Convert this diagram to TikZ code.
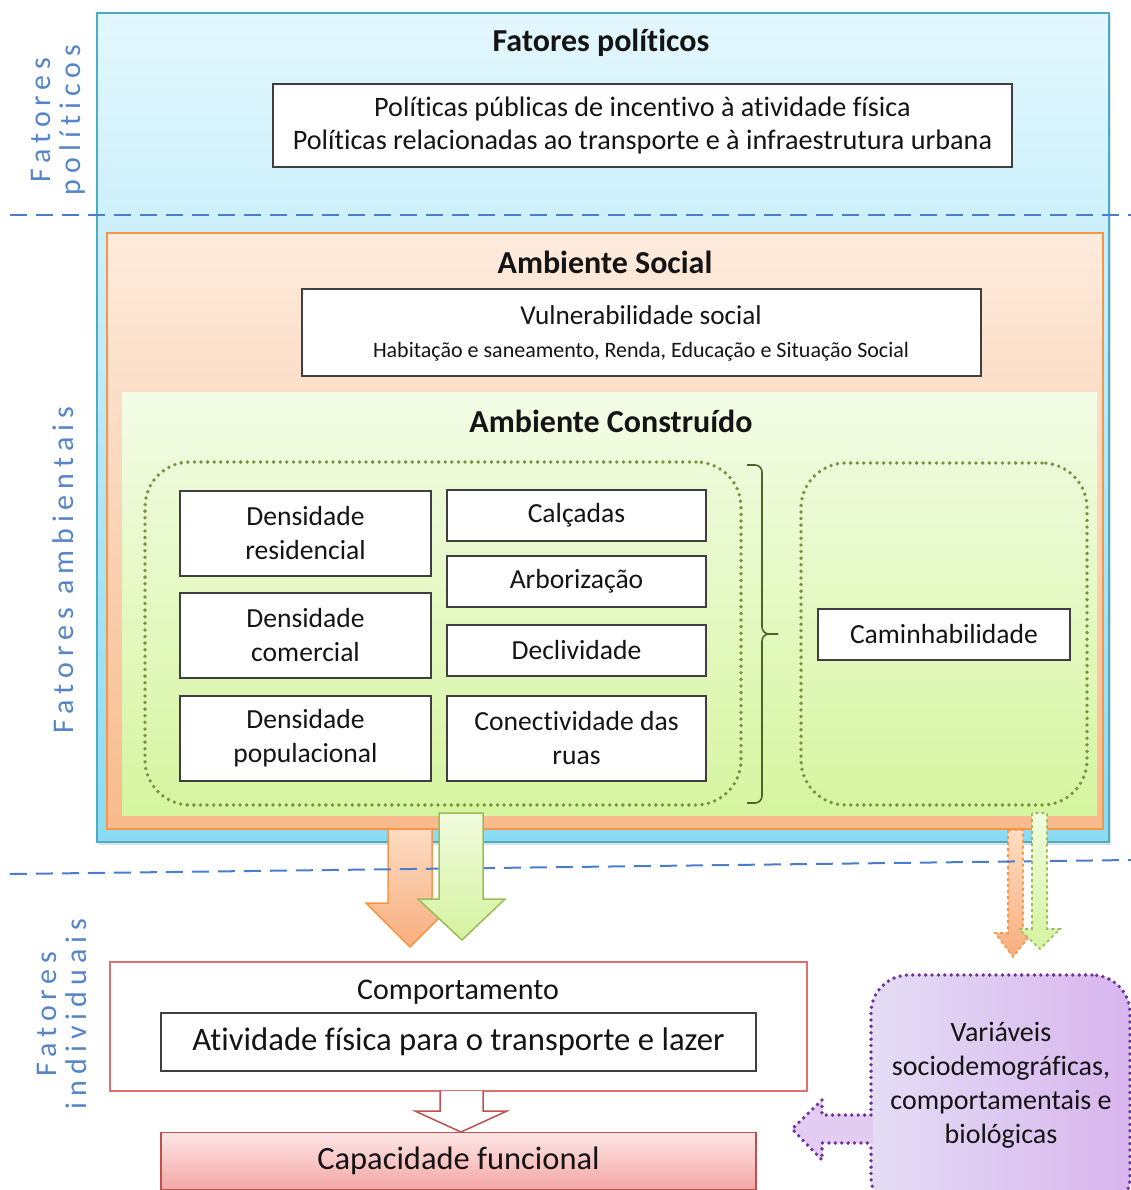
\documentclass[tikz,border=0pt]{standalone}
\usepackage{fontspec}
\setmainfont{Carlito}[Ligatures=NoCommon]
\newfontfamily\vlab{Carlito}[LetterSpace=20,Ligatures=NoCommon]
\usetikzlibrary{shadows}
\definecolor{blueT}{HTML}{E3F7FD}
\definecolor{blueBot}{HTML}{8ADBF2}
\definecolor{blueB}{HTML}{4BACC6}
\definecolor{orT}{HTML}{FDEBDD}
\definecolor{orBot}{HTML}{F9BA8C}
\definecolor{orB}{HTML}{F79646}
\definecolor{grT}{HTML}{F3FCE6}
\definecolor{grBot}{HTML}{D6F5A0}
\definecolor{oliveC}{HTML}{77933C}
\definecolor{boxline}{HTML}{3F3F3F}
\definecolor{dashblue}{HTML}{4A7DCC}
\definecolor{labblue}{HTML}{5585C8}
\definecolor{braceC}{HTML}{4F6228}
\definecolor{redline}{HTML}{E07070}
\definecolor{capB}{HTML}{C0504D}
\definecolor{capT}{HTML}{FDE6E6}
\definecolor{capBot}{HTML}{F4A7A5}
\definecolor{purB}{HTML}{7030A0}
\definecolor{purL}{HTML}{E4DDF5}
\definecolor{purR}{HTML}{D8B5EE}
\definecolor{purA}{HTML}{E2CCF2}
\definecolor{aorT}{HTML}{FDDCC3}
\definecolor{aorBot}{HTML}{F8AE7E}
\definecolor{agrT}{HTML}{F1FBDD}
\definecolor{agrBot}{HTML}{D5F3A0}
\definecolor{agrB}{HTML}{9BBB59}
\definecolor{textc}{HTML}{141414}
\newcommand\fsz[2]{\fontsize{#1}{#2}\selectfont}
\begin{document}
\begin{tikzpicture}[x=1pt,y=-1pt,
  wbox/.style={draw=boxline, fill=white, line width=1.2pt, inner sep=0pt, outer sep=0pt, align=center, text=textc},
  ttl/.style={font=\bfseries\fsz{32}{36}, text=textc, inner sep=0pt},
  txt/.style={text=textc, inner sep=0pt, align=center},
  dotbox/.style={draw=oliveC, line width=3.8pt, dash pattern=on 0pt off 6.6pt, line cap=round, rounded corners=45pt, inner sep=0pt},
  dline/.style={draw=dashblue, line width=2pt, dash pattern=on 17pt off 9pt},
  vlabel/.style={font=\vlab\fsz{30}{30}, text=labblue, rotate=90, align=center, inner sep=0pt},
  bigbox/.style={inner sep=0pt, outer sep=0pt, line width=1.5pt},
  brace/.style={draw=braceC, line width=1.6pt, rounded corners=7pt},
  orarrow/.style={draw=orB, line width=1.5pt, top color=aorT, bottom color=aorBot},
  grarrow/.style={draw=agrB, line width=1.5pt, top color=agrT, bottom color=agrBot},
  purdot/.style={draw=purB, line width=3.8pt, dash pattern=on 0pt off 6.4pt, line cap=round},
]
\useasboundingbox (0,0) rectangle (1131,1190);

% big boxes
\node[bigbox, draw=blueB, top color=blueT, bottom color=blueBot, minimum width=1012pt, minimum height=829pt,
  drop shadow={opacity=0.25, shadow xshift=2pt, shadow yshift=-3pt}] (polbox) at (603,427.5) {};
\node[bigbox, draw=orB, top color=orT, bottom color=orBot, minimum width=996pt, minimum height=596pt] (socbox) at (605,531) {};
\node[bigbox, top color=grT, bottom color=grBot, minimum width=975pt, minimum height=423pt] (conbox) at (609.5,603.5) {};

% dashed separators
\coordinate (d1a) at (10,215); \coordinate (d1b) at (1131,215);
\draw[dline] (d1a) -- (d1b);

% titles
\node[ttl] (t1) at (601,43) {Fatores políticos};
\node[ttl] (t2) at (605,262) {Ambiente Social};
\node[ttl] (t3) at (611,421) {Ambiente Construído};

% political box
\node[wbox, minimum width=739pt, minimum height=83pt, font=\fsz{28.2}{33}] (polit) at (642.5,125.5)
  {Políticas públicas de incentivo à atividade física\\Políticas relacionadas ao transporte e à infraestrutura urbana};

% social vulnerability
\node[wbox, minimum width=679pt, minimum height=87pt] (vul) at (641.5,332.5) {};
\node[txt, font=\fsz{27.2}{30}] (vult) at (641,315) {Vulnerabilidade social};
\node[txt, font=\fsz{22}{26}] (vuls) at (641,352) {Habitação e saneamento, Renda, Educação e Situação Social};

% dotted groups
\node[dotbox, minimum width=596pt, minimum height=343pt] (grpL) at (443,633.5) {};
\node[dotbox, minimum width=286pt, minimum height=342pt] (grpR) at (944,634) {};

% built environment boxes
\begin{scope}[every node/.style={wbox, font=\fsz{27.6}{34}}]
\node[minimum width=251pt, minimum height=85pt] (dres) at (305.5,533.5) {Densidade\\residencial};
\node[minimum width=251pt, minimum height=85pt] (dcom) at (305.5,635.5) {Densidade\\comercial};
\node[minimum width=251pt, minimum height=85pt] (dpop) at (305.5,738.5) {Densidade\\populacional};
\node[minimum width=259pt, minimum height=51pt] (calc) at (576.5,515.5) {Calçadas};
\node[minimum width=259pt, minimum height=51pt] (arb) at (576.5,581.5) {Arborização};
\node[minimum width=259pt, minimum height=51pt] (decl) at (576.5,650.5) {Declividade};
\node[minimum width=259pt, minimum height=85pt] (conn) at (576.5,738.5) {Conectividade das\\ruas};
\node[minimum width=252pt, minimum height=51pt] (cam) at (944,634.5) {Caminhabilidade};
\end{scope}

% brace
\draw[brace] (747,465) -- (762,465) -- (762,634) -- (778,634);
\draw[brace] (747,803) -- (762,803) -- (762,634) -- (778,634);

% arrows from environment
\path[orarrow] (388,829) -- (388,903) -- (366,903) -- (410,947) -- (454,903) -- (432,903) -- (432,829) -- cycle;
\path[orarrow, dashed, line width=1.6pt] (1008,830) -- (1008,933) -- (995,933) -- (1013,957) -- (1032,933) -- (1023,933) -- (1023,830) -- cycle;
\coordinate (d2a) at (10,874); \coordinate (d2b) at (1131,860);
\draw[dline] (d2a) -- (d2b);
\path[grarrow] (439,813) -- (439,899) -- (418,899) -- (462,940) -- (505,899) -- (483,899) -- (483,813) -- cycle;
\path[grarrow, dashed, line width=1.6pt] (1032,813) -- (1032,929) -- (1019,929) -- (1040,949) -- (1060,929) -- (1047,929) -- (1047,813) -- cycle;

% vertical labels
\node[vlabel] (lpol) at (58,120) {Fatores\\políticos};
\node[vlabel] (lamb) at (63,570) {Fatores ambientais};
\node[vlabel] (lind) at (62,1014) {Fatores\\individuais};

% individual factors
\node[draw=redline, line width=1.1pt, fill=white, minimum width=697pt, minimum height=129pt, inner sep=0pt] (comp) at (458.5,1026.5) {};
\node[txt, font=\fsz{30}{34}] (compt) at (458,992) {Comportamento};
\node[wbox, minimum width=595pt, minimum height=58pt, font=\fsz{32.7}{36}] (ativ) at (458.5,1042) {Atividade física para o transporte e lazer};

% hollow arrow
\draw[draw=capB, fill=white, line width=1.5pt] (440,1091) -- (440,1111) -- (415,1111) -- (461,1132) -- (507,1111) -- (483,1111) -- (483,1091);
\node[draw=capB, line width=1.5pt, top color=capT, bottom color=capBot, minimum width=595pt, minimum height=57pt, inner sep=0pt, text=textc, font=\fsz{32.5}{36}] (cap) at (458.5,1161) {Capacidade funcional};

% purple variables box
\node[purdot, rounded corners=38pt, left color=purL, right color=purR, minimum width=259pt, minimum height=240pt, inner sep=0pt] (purp) at (1000.5,1095) {};
\node[txt, font=\fsz{28}{34}] (purpt) at (1001,1085) {Variáveis\\sociodemográficas,\\comportamentais e\\biológicas};
\fill[purA] (873,1115) -- (822,1115) -- (822,1100) -- (792,1129) -- (822,1160) -- (822,1143) -- (873,1143) -- cycle;
\draw[purdot] (871,1115) -- (822,1115) -- (822,1100) -- (792,1129) -- (822,1160) -- (822,1143) -- (871,1143);
\end{tikzpicture}
\end{document}
